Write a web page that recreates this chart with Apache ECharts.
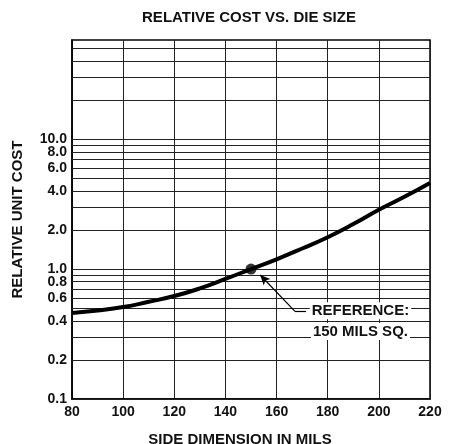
<!DOCTYPE html>
<html>
<head>
<meta charset="utf-8">
<script src="https://cdn.jsdelivr.net/npm/echarts@6/dist/echarts.min.js"></script>
<style>html,body{margin:0;padding:0;background:#fff;}#c{width:451px;height:444px;}</style>
</head>
<body>
<div id="c"></div>
<script>
// Data
var sizes = [80, 90, 100, 110, 120, 130, 140, 150, 160, 170, 180, 190, 200, 210, 220];
var costs = [0.46, 0.48, 0.51, 0.56, 0.62, 0.71, 0.84, 1.0, 1.19, 1.44, 1.76, 2.22, 2.86, 3.6, 4.6];
var refPoint = [150, 1.0];
var gridValues = [0.1, 0.2, 0.3, 0.4, 0.5, 0.6, 0.7, 0.8, 0.9, 1, 2, 3, 4, 5, 6, 7, 8, 9, 10, 20, 30, 40, 50];
var tickLabels = {"0.1": "0.1", "0.2": "0.2", "0.4": "0.4", "0.6": "0.6", "0.8": "0.8", "1": "1.0", "2": "2.0", "4": "4.0", "6": "6.0", "8": "8.0", "10": "10.0"};
var arrowFrom = [167.2, 0.472];
var arrowTo = [153.6, 0.9];
var leaderEnd = [171.5, 0.472];
var noteLines = ["REFERENCE:", "150 MILS SQ."];
var notePos = [[192.8, 0.478], [192.8, 0.331]];

var FONT = 'Liberation Sans, Arial, Helvetica, sans-serif';
var chart = echarts.init(document.getElementById('c'));

var gridLines = gridValues.map(function (v) {
  var key = String(v);
  return {
    yAxis: v,
    label: { show: !!tickLabels[key], formatter: tickLabels[key] || '' }
  };
});

chart.setOption({
  animation: false,
  backgroundColor: '#fff',
  title: {
    text: 'RELATIVE COST VS. DIE SIZE',
    left: 244, top: 5, textAlign: 'center',
    textStyle: { fontFamily: FONT, fontWeight: 'bold', fontSize: 15, color: '#111' }
  },
  grid: { left: 72, right: 21, top: 40, bottom: 45, show: true, borderColor: '#000', borderWidth: 1.5, backgroundColor: 'transparent', outerBoundsMode: 'none', containLabel: false },
  xAxis: {
    type: 'value', min: 80, max: 220, interval: 20,
    name: 'SIDE DIMENSION IN MILS', nameLocation: 'middle', nameGap: 33,
    nameTextStyle: { fontFamily: FONT, fontWeight: 'bold', fontSize: 15, color: '#111', padding: [0, 22, 0, 0] },
    axisLine: { show: true, lineStyle: { color: '#000', width: 1.5 } },
    axisTick: { show: false },
    axisLabel: { fontFamily: FONT, fontWeight: 'bold', fontSize: 14, color: '#111', margin: 6 },
    splitLine: { show: true, lineStyle: { color: '#222', width: 1 } }
  },
  yAxis: {
    type: 'log', logBase: 10, min: 0.1, max: 58,
    name: 'RELATIVE UNIT COST', nameLocation: 'middle', nameGap: 47, nameRotate: 90,
    nameTextStyle: { fontFamily: FONT, fontWeight: 'bold', fontSize: 15, color: '#111' },
    axisLine: { show: true, lineStyle: { color: '#000', width: 1.5 } },
    axisTick: { show: false },
    axisLabel: { show: false },
    splitLine: { show: false }
  },
  series: [
    {
      type: 'line', data: [], silent: true,
      markLine: {
        silent: true, symbol: ['none', 'none'], animation: false,
        lineStyle: { color: '#222', width: 1, type: 'solid' },
        label: { position: 'start', distance: 5, fontFamily: FONT, fontWeight: 'bold', fontSize: 14, color: '#111' },
        emphasis: { disabled: true },
        data: gridLines
      }
    },
    {
      type: 'line', smooth: true, showSymbol: false, silent: true,
      lineStyle: { color: '#000', width: 4 },
      data: sizes.map(function (s, i) { return [s, costs[i]]; }),
      z: 5
    },
    {
      type: 'scatter', data: [refPoint], symbolSize: 11, silent: true,
      itemStyle: { color: '#000' }, z: 6,
      markLine: {
        silent: true, animation: false,
        label: { show: false },
        emphasis: { disabled: true },
        data: [
          [{ coord: arrowFrom, symbol: 'none', lineStyle: { color: '#000', width: 1.2, type: 'solid' } },
           { coord: arrowTo, symbol: 'arrow', symbolSize: [7, 10] }],
          [{ coord: arrowFrom, symbol: 'none', lineStyle: { color: '#000', width: 1.2, type: 'solid' } },
           { coord: leaderEnd, symbol: 'none' }]
        ]
      },
      markPoint: {
        silent: true, symbol: 'circle', symbolSize: 0,
        data: noteLines.map(function (t, i) {
          return {
            coord: notePos[i],
            label: {
              show: true, position: 'inside', formatter: t,
              fontFamily: FONT, fontWeight: 'bold', fontSize: 15, color: '#111',
              backgroundColor: '#fff', padding: [1, 2]
            }
          };
        })
      }
    }
  ]
});
</script>
</body>
</html>
